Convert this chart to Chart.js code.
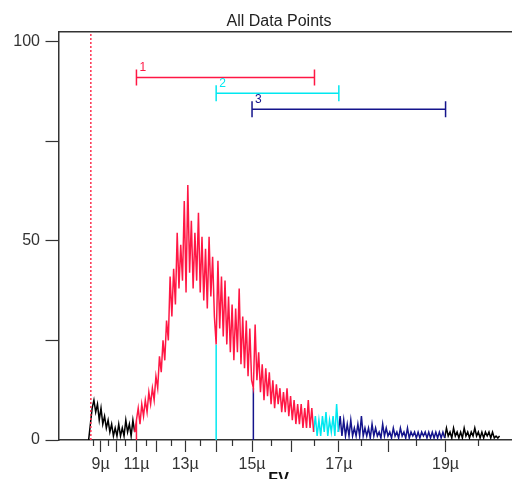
<!DOCTYPE html>
<html>
<head>
<meta charset="utf-8">
<script src="https://cdn.jsdelivr.net/npm/chart.js@4/dist/chart.umd.min.js"></script>
<style>
  html, body { margin: 0; padding: 0; background: #fff; }
  #wrap { width: 512px; height: 479px; }
</style>
</head>
<body>
<div id="wrap"><canvas id="histo" width="512" height="479"></canvas></div>
<script>
// FV histogram, counts per channel bin
const binStart = 68;   // channel of first bin
const binWidth = 4;    // channels per bin
const counts = [
  0, 4, 8, 10, 7, 9, 5, 8, 4, 6, 3, 5, 2, 4, 1, 3, 1, 4, 1, 3, 1, 5, 2, 4, 1, 5, 2,
  5, 8, 4, 9, 6, 10, 7, 12, 9, 13, 10, 16, 13, 21, 17, 25, 20, 30, 25, 41, 31, 43, 34,
  52, 38, 49, 40, 60, 37, 64, 42, 55, 38, 52, 40, 57, 37, 51, 35, 48, 33, 51, 36,
  46, 31, 24, 45, 28, 41, 26, 40, 24, 36, 22, 34, 20, 33, 22, 38, 19, 31, 18, 30,
  16, 28, 15, 13, 29, 15, 22, 12, 19, 10, 18, 11, 17, 9, 15, 8, 14, 9, 13, 7,
  12, 7, 13, 6, 11, 5, 10, 4, 9, 4, 9, 3, 8, 3, 10, 3, 8, 2,
  6, 1, 5, 1, 6, 2, 7, 1, 5, 2, 6, 1, 9, 2,
  6, 1, 5, 1, 4, 1, 5, 1, 3, 1, 4, 1, 6, 1, 3, 1, 3, 0.5, 4, 1,
  3, 1, 2, 0.5, 4, 1, 3, 1, 2, 0.5, 3, 1, 2, 0.5, 3, 1, 2, 0.5, 3, 0.5,
  2, 1, 2, 0.5, 2, 0.5, 2, 1, 2, 0.5, 2, 0.5, 2, 0.5, 2, 0.5, 2, 0.5, 2, 0.5,
  3, 1, 2, 0.5, 3, 1, 2, 0.5, 2, 0.5, 3, 1, 2, 0.5, 2, 1, 3, 1, 2, 0.5,
  2, 0.5, 2, 1, 2, 0.5, 2, 0.5, 1, 0.5, 1
];

// gates, in channels
const gateNames = ['1', '2', '3'];
const gateLo = [176, 356, 437];
const gateHi = [578, 633, 874];
const gateLevel = [91, 87, 83];
const gateColors = ['#ff1744', '#00e8f0', '#14148c'];
const ungatedColor = '#000000';

// red marker line
const markerChannel = 73;

// axis ticks
const xMajorTicks = [95, 131, 176, 222, 286, 356, 437, 527, 633, 745, 874];
const xMajorLabels = ['9µ', '', '11µ', '', '13µ', '', '15µ', '', '17µ', '', '19µ'];
const xMinorTicks = [79, 112, 152, 199, 256, 320, 394, 481, 578, 685, 809, 948];
const yTicks = [0, 25, 50, 75, 100];
const yLabels = ['0', '', '50', '', '100'];

const family = "'Liberation Sans', Arial, sans-serif";

const channels = counts.map((c, i) => binStart + i * binWidth);
function ownerOf(ch) {
  for (let g = 0; g < gateLo.length; g++) {
    if (ch >= gateLo[g] && ch <= gateHi[g]) return g;
  }
  return -1;
}
const owners = channels.map(ownerOf);

function tracePoints(g) {
  return channels.map((ch, i) => {
    const mine = owners[i] === g || owners[i + 1] === g;
    return { x: ch, y: mine ? counts[i] : null };
  });
}

const datasets = [];
// marker
datasets.push({
  data: [{ x: markerChannel, y: 0 }, { x: markerChannel, y: 102.4 }],
  borderColor: '#ff3050', borderWidth: 1.5, borderDash: [2, 2], pointRadius: 0
});
// gate bars
gateNames.forEach((n, g) => {
  datasets.push({
    data: [{ x: gateLo[g], y: gateLevel[g] }, { x: gateHi[g], y: gateLevel[g] }],
    borderColor: gateColors[g], borderWidth: 1.5,
    pointStyle: 'line', pointRotation: 90, pointRadius: 8,
    pointBorderColor: gateColors[g], pointBorderWidth: 1.5
  });
});
// gated traces
gateNames.forEach((n, g) => {
  const first = channels.findIndex(ch => ch >= gateLo[g]);
  datasets.push({
    data: [
      { x: channels[first], y: 0 },
      { x: channels[first], y: counts[first] },
      { x: channels[first], y: null }
    ].concat(tracePoints(g)),
    borderColor: gateColors[g], borderWidth: 1.5, pointRadius: 0, spanGaps: false
  });
});
// ungated
datasets.push({
  data: tracePoints(-1),
  borderColor: ungatedColor, borderWidth: 1.5, pointRadius: 0, spanGaps: false
});

const gateLabels = {
  id: 'gateLabels',
  afterLayout(chart) {
    // let the y labels draw left of the narrow axis box
    chart.scales.y.left = 0;
  },
  afterDatasetsDraw(chart) {
    const { ctx, scales } = chart;
    ctx.save();
    ctx.font = '12px ' + family;
    ctx.textAlign = 'left';
    ctx.textBaseline = 'middle';
    gateNames.forEach((n, g) => {
      ctx.fillStyle = gateColors[g];
      ctx.fillText(n, scales.x.getPixelForValue(gateLo[g]) + 3, scales.y.getPixelForValue(gateLevel[g]) - 10);
    });
    ctx.restore();
  }
};

new Chart(document.getElementById('histo'), {
  type: 'line',
  data: { datasets: datasets },
  plugins: [gateLabels],
  options: {
    responsive: false,
    animation: false,
    devicePixelRatio: 1,
    layout: { autoPadding: false, padding: { left: 46, right: 0, top: 0, bottom: -10.4 } },
    plugins: {
      legend: { display: false },
      tooltip: { enabled: false },
      title: {
        display: true, text: 'All Data Points', color: '#222',
        font: { family: family, size: 16, weight: 'normal' },
        padding: { top: 11.5, bottom: 1.3 }
      }
    },
    elements: { line: { tension: 0 } },
    scales: {
      x: {
        type: 'linear', min: 0, max: 1024,
        afterBuildTicks: s => { s.ticks = xMajorTicks.map(v => ({ value: v })); },
        ticks: {
          autoSkip: false, maxRotation: 0, padding: 3, color: '#333',
          font: { family: family, size: 16 },
          callback: (v, i) => xMajorLabels[i]
        },
        grid: { drawOnChartArea: false, tickLength: 12, tickColor: '#333', tickWidth: 1.2 },
        border: { display: true, color: '#333', width: 1.5 },
        title: {
          display: true, text: 'FV   ', color: '#111',
          font: { family: family, size: 16, weight: 'bold' },
          padding: { top: -7, bottom: 0 }
        }
      },
      xMinor: {
        type: 'linear', min: 0, max: 1024, position: { y: 0 },
        afterBuildTicks: s => { s.ticks = xMinorTicks.map(v => ({ value: v })); },
        ticks: { display: false },
        grid: { drawOnChartArea: false, tickLength: 6, tickColor: '#333', tickWidth: 1.2 },
        border: { display: false }
      },
      xTop: {
        type: 'linear', min: 0, max: 1024, position: 'top',
        ticks: { display: false },
        grid: { drawOnChartArea: false, drawTicks: false },
        border: { display: true, color: '#333', width: 1.5 }
      },
      y: {
        min: 0, max: 102.4,
        afterBuildTicks: s => { s.ticks = yTicks.map(v => ({ value: v })); },
        afterFit: s => { s.width = 12.5; },
        ticks: {
          padding: 5.5, color: '#333',
          font: { family: family, size: 16 },
          callback: (v, i) => yLabels[i]
        },
        grid: { drawOnChartArea: false, tickLength: 13, tickColor: '#333', tickWidth: 1.2 },
        border: { color: '#333', width: 1.5 }
      }
    }
  }
});
</script>
</body>
</html>
